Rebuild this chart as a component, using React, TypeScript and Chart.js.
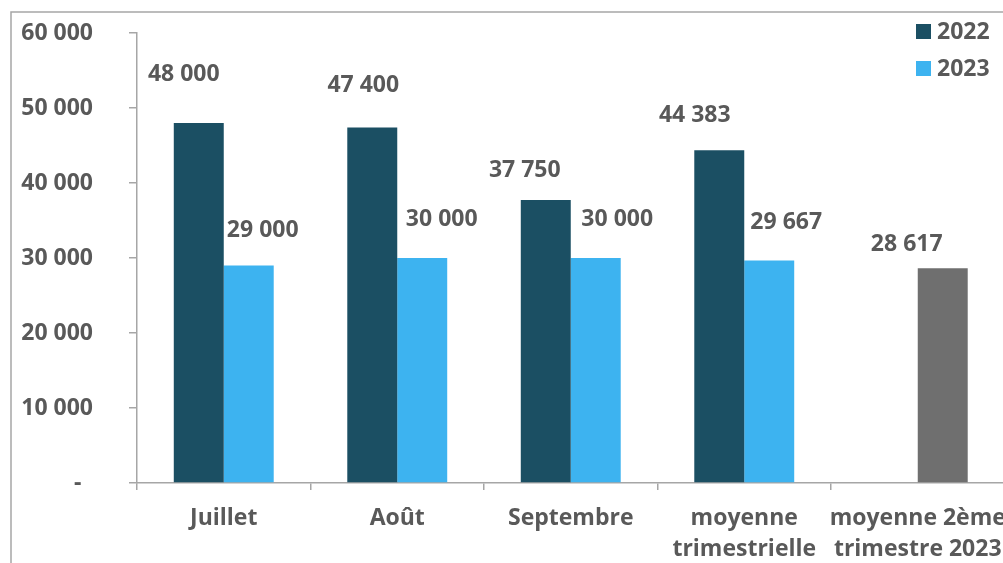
import React, { useEffect, useRef } from 'react';
import { Chart, registerables } from 'chart.js';

Chart.register(...registerables);

// ---- data ----
const categories: (string | string[])[] = [
  'Juillet',
  'Août',
  'Septembre',
  ['moyenne', 'trimestrielle'],
  ['moyenne 2ème', 'trimestre 2023'],
];
const seriesNames = ['2022', '2023'];
const values2022: (number | null)[] = [48000, 47400, 37750, 44383, null];
const values2023: (number | null)[] = [29000, 30000, 30000, 29667, 28617];
const yTickLabels = ['-\u2002', '10 000', '20 000', '30 000', '40 000', '50 000', '60 000'];

// ---- styles ----
const color2022 = '#1B4F63';
const color2023 = '#3DB3F0';
const colorAverage = '#6F6F6F';
const colors2023 = [color2023, color2023, color2023, color2023, colorAverage];
const textColor = '#595959';
const axisColor = '#A6A6A6';
const fontFamily = '"Open Sans", "Noto Sans", sans-serif';
const fontSize = 23;

// label offsets (px) relative to top-center of each bar
const labelOffsets2022 = [[-15, -49], [-9, -42], [-21, -29], [-24.5, -35], [0, 0]];
const labelOffsets2023 = [[14, -35], [19.5, -39], [21.5, -39], [17, -38.5], [-36, -24]];

const fmt = (v: number) => Math.round(v).toString().replace(/\B(?=(\d{3})+(?!\d))/g, ' ');

const CANVAS_W = 1010;
const CANVAS_H = 563;

const framePlugin = {
  id: 'frame',
  beforeDraw(chart: any) {
    const ctx = chart.ctx;
    ctx.save();
    ctx.fillStyle = '#ffffff';
    ctx.fillRect(0, 0, chart.width, chart.height);
    ctx.strokeStyle = axisColor;
    ctx.lineWidth = 1.5;
    ctx.beginPath();
    ctx.moveTo(11, chart.height + 5);
    ctx.lineTo(11, 12);
    ctx.lineTo(chart.width + 5, 12);
    ctx.stroke();
    ctx.restore();
  },
};

const labelsPlugin = {
  id: 'barLabels',
  afterDatasetsDraw(chart: any) {
    const ctx = chart.ctx;
    ctx.save();
    ctx.font = `bold ${fontSize}px ${fontFamily}`;
    ctx.fillStyle = textColor;
    ctx.textAlign = 'center';
    ctx.textBaseline = 'middle';
    const offsets = [labelOffsets2022, labelOffsets2023];
    chart.data.datasets.forEach((ds: any, di: number) => {
      const meta = chart.getDatasetMeta(di);
      meta.data.forEach((el: any, i: number) => {
        const v = ds.data[i];
        if (v === null || v === undefined) return;
        const [dx, dy] = offsets[di][i];
        ctx.fillText(fmt(v), el.x + dx, el.y + dy);
      });
    });
    ctx.restore();
  },
};

const legendPlugin = {
  id: 'customLegend',
  afterDraw(chart: any) {
    const ctx = chart.ctx;
    ctx.save();
    ctx.font = `bold ${fontSize}px ${fontFamily}`;
    ctx.textAlign = 'left';
    ctx.textBaseline = 'middle';
    const items = [
      { name: seriesNames[0], color: color2022, y: 24 },
      { name: seriesNames[1], color: color2023, y: 61 },
    ];
    items.forEach((it) => {
      ctx.fillStyle = it.color;
      ctx.fillRect(916, it.y, 15, 15);
      ctx.fillStyle = textColor;
      ctx.fillText(it.name, 937, it.y + 8);
    });
    ctx.restore();
  },
};

export default function App() {
  const ref = useRef<HTMLCanvasElement | null>(null);

  useEffect(() => {
    document.body.style.margin = '0';
    if (!ref.current) return;
    const chart = new Chart(ref.current, {
      type: 'bar',
      data: {
        labels: categories as any,
        datasets: [
          {
            label: seriesNames[0],
            data: values2022,
            backgroundColor: color2022,
            categoryPercentage: 0.576,
            barPercentage: 1,
          },
          {
            label: seriesNames[1],
            data: values2023,
            backgroundColor: colors2023,
            categoryPercentage: 0.576,
            barPercentage: 1,
          },
        ],
      },
      options: {
        responsive: false,
        animation: false,
        devicePixelRatio: 1,
        layout: { padding: { left: 0, top: 33, right: CANVAS_W - 1004.5, bottom: 0 } },
        plugins: {
          legend: { display: false },
          tooltip: { enabled: false },
          title: { display: false },
        },
        scales: {
          x: {
            grid: {
              display: true,
              drawOnChartArea: false,
              drawTicks: true,
              tickLength: 7,
              color: axisColor,
              lineWidth: 1.5,
              offset: true,
            },
            border: { display: true, color: axisColor, width: 1.5 },
            ticks: {
              color: textColor,
              font: { family: fontFamily, size: fontSize, weight: 'bold', lineHeight: 1.35 },
              maxRotation: 0,
              minRotation: 0,
              autoSkip: false,
              padding: 13,
            },
            afterFit(scale: any) {
              scale.height = 80;
              scale.paddingLeft = 0;
              scale.paddingRight = 0;
            },
          },
          y: {
            min: 0,
            max: 60000,
            grid: {
              display: true,
              drawOnChartArea: false,
              drawTicks: true,
              tickLength: 8,
              color: axisColor,
              lineWidth: 1.5,
            },
            border: { display: true, color: axisColor, width: 1.5 },
            ticks: {
              stepSize: 10000,
              color: textColor,
              font: { family: fontFamily, size: fontSize, weight: 'bold' },
              padding: 36,
              callback: (_v: any, i: number) => yTickLabels[i],
            },
            afterFit(scale: any) {
              scale.width = 137;
              scale.paddingTop = 0;
              scale.paddingBottom = 0;
            },
          },
        },
      } as any,
      plugins: [framePlugin, labelsPlugin, legendPlugin],
    });
    return () => chart.destroy();
  }, []);

  return (
    <div
      style={{
        position: 'fixed',
        left: 0,
        top: 0,
        width: 1003,
        height: 563,
        overflow: 'hidden',
        background: '#fff',
      }}
    >
      <canvas
        ref={ref}
        width={CANVAS_W}
        height={CANVAS_H}
        style={{ width: CANVAS_W, height: CANVAS_H, display: 'block' }}
      />
    </div>
  );
}
